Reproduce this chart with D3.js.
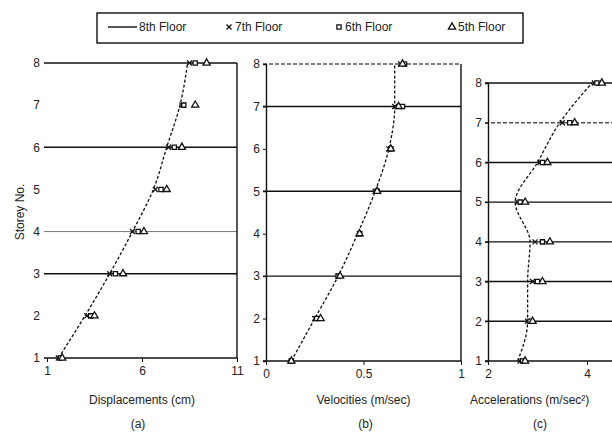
<!DOCTYPE html>
<html>
<head>
<meta charset="utf-8">
<script src="https://cdn.jsdelivr.net/npm/d3@7"></script>
<style>
  body { margin: 0; background: #fff; }
  svg { display: block; font-family: "Liberation Sans", Arial, sans-serif; }
</style>
</head>
<body>
<svg id="chart" width="612" height="434"></svg>
<script>
// storey numbers and series
const storeys = [1, 2, 3, 4, 5, 6, 7, 8]
const seriesNames = ['8th Floor', '7th Floor', '6th Floor', '5th Floor']

// (a) displacements, cm
const disp8 = [1.6, 3.0, 4.3, 5.5, 6.6, 7.3, 8.0, 8.4]
const disp7 = [1.6, 3.1, 4.3, 5.5, 6.7, 7.4, 8.1, 8.5]
const disp6 = [1.7, 3.3, 4.6, 5.8, 7.0, 7.7, 8.2, 8.8]
const disp5 = [1.8, 3.5, 5.0, 6.1, 7.3, 8.1, 8.8, 9.4]

// (b) velocities, m/sec
const vel8 = [0.13, 0.25, 0.37, 0.47, 0.56, 0.63, 0.66, 0.66]
const vel7 = [0.13, 0.25, 0.37, 0.48, 0.56, 0.63, 0.66, 0.69]
const vel6 = [0.13, 0.26, 0.37, 0.48, 0.57, 0.64, 0.70, 0.71]
const vel5 = [0.13, 0.28, 0.38, 0.48, 0.57, 0.64, 0.68, 0.70]

// (c) accelerations, m/sec2
const acc8 = [2.6, 2.8, 2.8, 2.85, 2.55, 3.0, 3.45, 4.1]
const acc7 = [2.65, 2.8, 2.9, 2.95, 2.6, 3.05, 3.5, 4.15]
const acc6 = [2.7, 2.85, 3.0, 3.1, 2.65, 3.1, 3.65, 4.2]
const acc5 = [2.75, 2.9, 3.1, 3.25, 2.75, 3.2, 3.75, 4.3]

// tick labels
const dispTicks = [1, 6, 11]
const velTicks = [0, 0.5, 1]
const accTicks = [2, 4]

// floor lines drawn across each panel
const dispFloors = [1, 3, 4, 6, 8]
const velFloors = [1, 3, 5, 7, 8]
const accFloors = [1, 2, 3, 4, 5, 6, 7, 8]
const dispLight = [4]
const velDashed = [8]
const accDashed = [7]

const svg = d3.select('#chart')
const font = '"Liberation Sans", Arial, sans-serif'

const panels = [
  { series: [disp8, disp7, disp6, disp5], ticks: dispTicks, fmt: d3.format('d'), floors: dispFloors, dashed: [], light: dispLight,
    domain: [1, 11], xr: [47, 237], yr: [358, 63], leftAxis: false, rightBorder: true,
    title: 'Displacements (cm)', tag: '(a)' },
  { series: [vel8, vel7, vel6, vel5], ticks: velTicks, fmt: d => d === 0.5 ? '0.5' : String(d), floors: velFloors, dashed: velDashed, light: [],
    domain: [0, 1], xr: [266, 461], yr: [361, 64], leftAxis: true, rightBorder: true,
    title: 'Velocities (m/sec)', tag: '(b)' },
  { series: [acc8, acc7, acc6, acc5], ticks: accTicks, fmt: d3.format('d'), floors: accFloors, dashed: accDashed, light: [],
    domain: [2, 6], xr: [488, 686], yr: [361, 83], leftAxis: true, rightBorder: false,
    title: 'Accelerations (m/sec\u00B2)', tag: '(c)' }
]

const symX = d3.symbolX || d3.symbolCross
const markers = [null, symX, d3.symbolSquare, d3.symbolTriangle]

function drawMarker(g, type, x, y) {
  g.append('path')
    .attr('d', d3.symbol().type(type).size(type === d3.symbolTriangle ? 22 : 18)())
    .attr('transform', `translate(${x},${y})`)
    .attr('fill', type === symX ? 'none' : '#fff')
    .attr('stroke', '#111')
    .attr('stroke-width', 1.3)
}

panels.forEach((p, pi) => {
  const x = d3.scaleLinear().domain(p.domain).range(p.xr)
  const y = d3.scaleLinear().domain([1, 8]).range(p.yr)
  const xEnd = Math.min(p.xr[1], 612)
  const g = svg.append('g')

  // floor lines
  g.selectAll('line.floor')
    .data(p.floors)
    .join('line')
    .attr('x1', p.xr[0] - 3)
    .attr('x2', xEnd)
    .attr('y1', d => y(d))
    .attr('y2', d => y(d))
    .attr('stroke', d => p.dashed.includes(d) ? '#555' : p.light.includes(d) ? '#777' : '#111')
    .attr('stroke-width', d => p.light.includes(d) ? 1 : 1.4)
    .attr('stroke-dasharray', d => p.dashed.includes(d) ? '4,2' : null)

  if (p.rightBorder) {
    g.append('line')
      .attr('x1', p.xr[1]).attr('x2', p.xr[1])
      .attr('y1', p.yr[1]).attr('y2', p.yr[0])
      .attr('stroke', '#111').attr('stroke-width', 1.4)
  }

  // y axis
  const yAxis = g.append('g')
    .attr('transform', `translate(${p.xr[0]},0)`)
    .call(d3.axisLeft(y).tickValues(storeys).tickFormat(d3.format('d')).tickSize(p.leftAxis ? 3 : 0).tickPadding(p.leftAxis ? 3 : 7))
  yAxis.select('.domain').attr('stroke', '#111').attr('stroke-width', 1.4).attr('display', p.leftAxis ? null : 'none')
  yAxis.selectAll('.tick line').attr('stroke', '#111')
  yAxis.selectAll('text').attr('font-family', font).attr('font-size', 12).attr('fill', '#222')

  // x axis
  const xAxis = g.append('g')
    .attr('transform', `translate(0,${p.yr[0]})`)
    .call(d3.axisBottom(x).tickValues(p.ticks).tickFormat(p.fmt).tickSize(4).tickSizeOuter(0).tickPadding(4))
  xAxis.select('.domain').remove()
  xAxis.selectAll('.tick line').attr('stroke', '#111')
  xAxis.selectAll('text').attr('font-family', font).attr('font-size', 12).attr('fill', '#222')

  // 8th floor line
  const pts = storeys.map((s, i) => [x(p.series[0][i]), y(s)])
  g.append('path')
    .attr('d', d3.line().curve(d3.curveMonotoneY)(pts))
    .attr('fill', 'none')
    .attr('stroke', '#111')
    .attr('stroke-width', 1.3)
    .attr('stroke-dasharray', '3,2')

  // markers for other floors
  p.series.slice(1).forEach((vals, k) => {
    storeys.forEach((s, i) => drawMarker(g, markers[k + 1], x(vals[i]), y(s)))
  })

  // titles
  g.append('text')
    .attr('x', pi === 2 ? 470 : (p.xr[0] + p.xr[1]) / 2)
    .attr('y', 404)
    .attr('text-anchor', pi === 2 ? 'start' : 'middle')
    .attr('font-family', font).attr('font-size', 12).attr('fill', '#222')
    .text(p.title)
  g.append('text')
    .attr('x', pi === 2 ? 540 : (p.xr[0] + p.xr[1]) / 2 + (pi === 1 ? 2 : -4))
    .attr('y', 428)
    .attr('text-anchor', 'middle')
    .attr('font-family', font).attr('font-size', 12).attr('fill', '#222')
    .text(p.tag)
})

// y axis title
svg.append('text')
  .attr('transform', 'translate(24,212) rotate(-90)')
  .attr('text-anchor', 'middle')
  .attr('font-family', font).attr('font-size', 12).attr('fill', '#222')
  .text('Storey No.')

// legend
const legend = svg.append('g')
legend.append('rect')
  .attr('x', 97).attr('y', 13).attr('width', 426).attr('height', 30)
  .attr('fill', '#fff').attr('stroke', '#111').attr('stroke-width', 1.4)
const legendX = [108, 227, 337, 450]
seriesNames.forEach((name, i) => {
  const lx = legendX[i]
  if (i === 0) {
    legend.append('line')
      .attr('x1', lx).attr('x2', lx + 29).attr('y1', 27).attr('y2', 27)
      .attr('stroke', '#111').attr('stroke-width', 1.4)
  } else {
    drawMarker(legend, markers[i], lx + 2, 27)
  }
  legend.append('text')
    .attr('x', i === 0 ? lx + 31 : lx + 8)
    .attr('y', 31)
    .attr('font-family', font).attr('font-size', 12).attr('fill', '#222')
    .text(name)
})
</script>
</body>
</html>
